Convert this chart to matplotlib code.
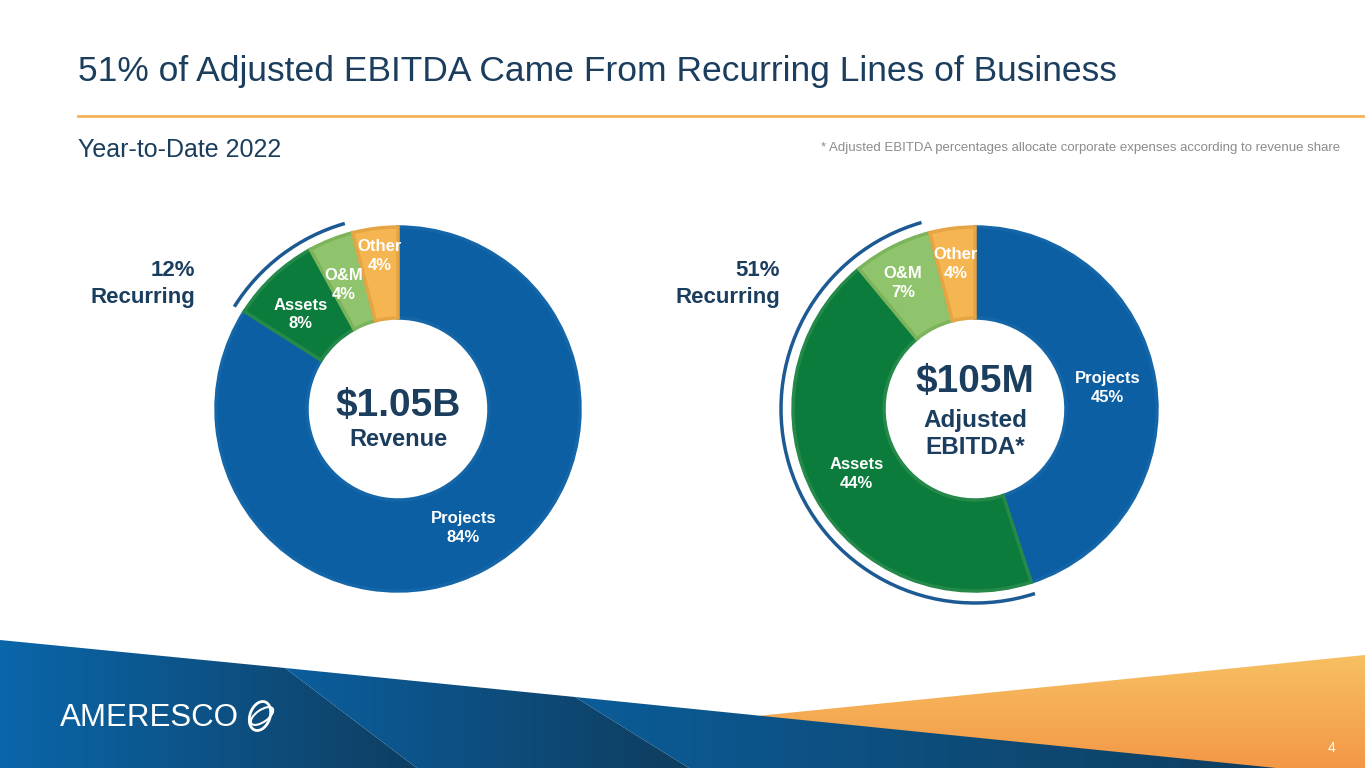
import numpy as np
import matplotlib.pyplot as plt
from matplotlib.patches import Polygon, Arc, Ellipse
from matplotlib.colors import LinearSegmentedColormap

plt.rcParams['font.family'] = ['Liberation Sans', 'DejaVu Sans']

W, H = 1365, 768

# data
rev_labels = ['Projects', 'Assets', 'O&M', 'Other']
rev_share = [84, 8, 4, 4]
ebitda_labels = ['Projects', 'Assets', 'O&M', 'Other']
ebitda_share = [45, 44, 7, 4]
recurring_pct = ['12%', '51%']
center_big = ['$1.05B', '$105M']
center_small = ['Revenue', 'Adjusted\nEBITDA*']

fills = ['#0b5fa2', '#0b7c3c', '#8fc46c', '#f5b652']
edges = ['#1466a8', '#25894a', '#7cb45b', '#e6a544']
navy = '#1b3d5e'


def py(y):
    # pixel row (from top) -> data y
    return H - y


def gradient(ax, poly, c0, c1, vertical=False, z=1):
    patch = Polygon(poly, closed=True, facecolor='none', edgecolor='none')
    ax.add_patch(patch)
    xs = [p[0] for p in poly]
    ys = [p[1] for p in poly]
    cmap = LinearSegmentedColormap.from_list('g', [c0, c1])
    g = np.linspace(0, 1, 256)
    arr = g.reshape(-1, 1) if vertical else g.reshape(1, -1)
    im = ax.imshow(arr, cmap=cmap, aspect='auto', origin='upper' if vertical else 'lower',
                   extent=(min(xs), max(xs), min(ys), max(ys)), zorder=z)
    im.set_clip_path(patch)


def donut(ax, values, labels, cx, cy, lab_r, lab_nudge):
    wedges, _ = ax.pie(values, center=(cx, cy), radius=182, startangle=90,
                       counterclock=False, colors=fills,
                       wedgeprops=dict(width=91, linewidth=2.5))
    for w, e in zip(wedges, edges):
        w.set_edgecolor(e)
        w.set_zorder(2)
    for w, lab, v, r, d in zip(wedges, labels, values, lab_r, lab_nudge):
        a = np.deg2rad((w.theta1 + w.theta2) / 2 + d)
        ax.text(cx + r * np.cos(a), cy + r * np.sin(a), f'{lab}\n{v}%',
                ha='center', va='center', color='white', fontsize=12,
                fontweight='bold', linespacing=1.3, zorder=3)


fig = plt.figure(figsize=(W / 100, H / 100), dpi=100)
ax = fig.add_axes([0, 0, 1, 1])

# donuts
donut(ax, rev_share, rev_labels, 398, py(409), [136, 136, 135, 154], [0, 2.7, 2, -0.5])
donut(ax, ebitda_share, ebitda_labels, 975, py(409), [134, 135, 145, 146], [0, 0, 2.7, 0.3])

# recurring arcs
ax.add_patch(Arc((398, py(409)), 386, 386, theta1=106, theta2=148,
                 color='#1d5a94', lw=2.5, zorder=3))
ax.add_patch(Arc((975, py(409)), 388, 388, theta1=106, theta2=288,
                 color='#1d5a94', lw=2.5, zorder=3))

for x, pct in zip([195, 780], recurring_pct):
    ax.text(x, py(270), pct, ha='right', va='center', color=navy,
            fontsize=16, fontweight='bold')
    ax.text(x, py(297), 'Recurring', ha='right', va='center', color=navy,
            fontsize=16, fontweight='bold')

# center labels
ax.text(398, py(406), center_big[0], ha='center', va='center', color=navy,
        fontsize=28, fontweight='bold', zorder=4)
ax.text(398, py(440), center_small[0], ha='center', va='center', color=navy,
        fontsize=17, fontweight='bold', zorder=4)
ax.text(975, py(382), center_big[1], ha='center', va='center', color=navy,
        fontsize=28, fontweight='bold', zorder=4)
ax.text(975, py(434), center_small[1], ha='center', va='center', color=navy,
        fontsize=17.5, fontweight='bold', linespacing=1.25, zorder=4)

# header
ax.text(78, py(72), '51% of Adjusted EBITDA Came From Recurring Lines of Business',
        ha='left', va='center', color=navy, fontsize=25.5)
ax.plot([78, W], [py(116), py(116)], color='#f0b35a', lw=2)
ax.text(78, py(150), 'Year-to-Date 2022', ha='left', va='center',
        color=navy, fontsize=18)
ax.text(1340, py(148),
        '* Adjusted EBITDA percentages allocate corporate expenses according to revenue share',
        ha='right', va='center', color='#8c8c8c', fontsize=9.5)

# footer bands (orange first, blue drawn over its lower edge)
gradient(ax, [(760, 52.3), (W, 113), (W, -10), (700, -10)], '#f7c062', '#f39445',
         vertical=True, z=1)
gradient(ax, [(0, 128), (285, 100), (430, -10), (0, -10)], '#0a66aa', '#0f3d5f', z=2)
gradient(ax, [(285, 100), (575, 71), (705, -10), (430, -10)], '#0b5e9e', '#0f3c5c', z=2)
gradient(ax, [(575, 71), (W, -9), (W, -10), (705, -10)], '#0b5c98', '#0f3a57', z=2)

ax.text(60, py(718), 'AMERESCO', ha='left', va='center', color='white',
        fontsize=22.5, fontweight='medium', zorder=5)
ax.add_patch(Ellipse((260, py(716)), 20, 30, angle=-20, fill=False,
                     ec='white', lw=2, zorder=5))
ax.add_patch(Ellipse((262, py(716)), 26, 12, angle=35, fill=False,
                     ec='white', lw=1.5, zorder=5))
ax.text(1331, py(748), '4', ha='center', va='center', color='white',
        fontsize=10, zorder=5)

ax.set_xlim(0, W)
ax.set_ylim(0, H)
ax.set_aspect('auto')
ax.axis('off')

fig.savefig('out.png', dpi=100, facecolor='white')
